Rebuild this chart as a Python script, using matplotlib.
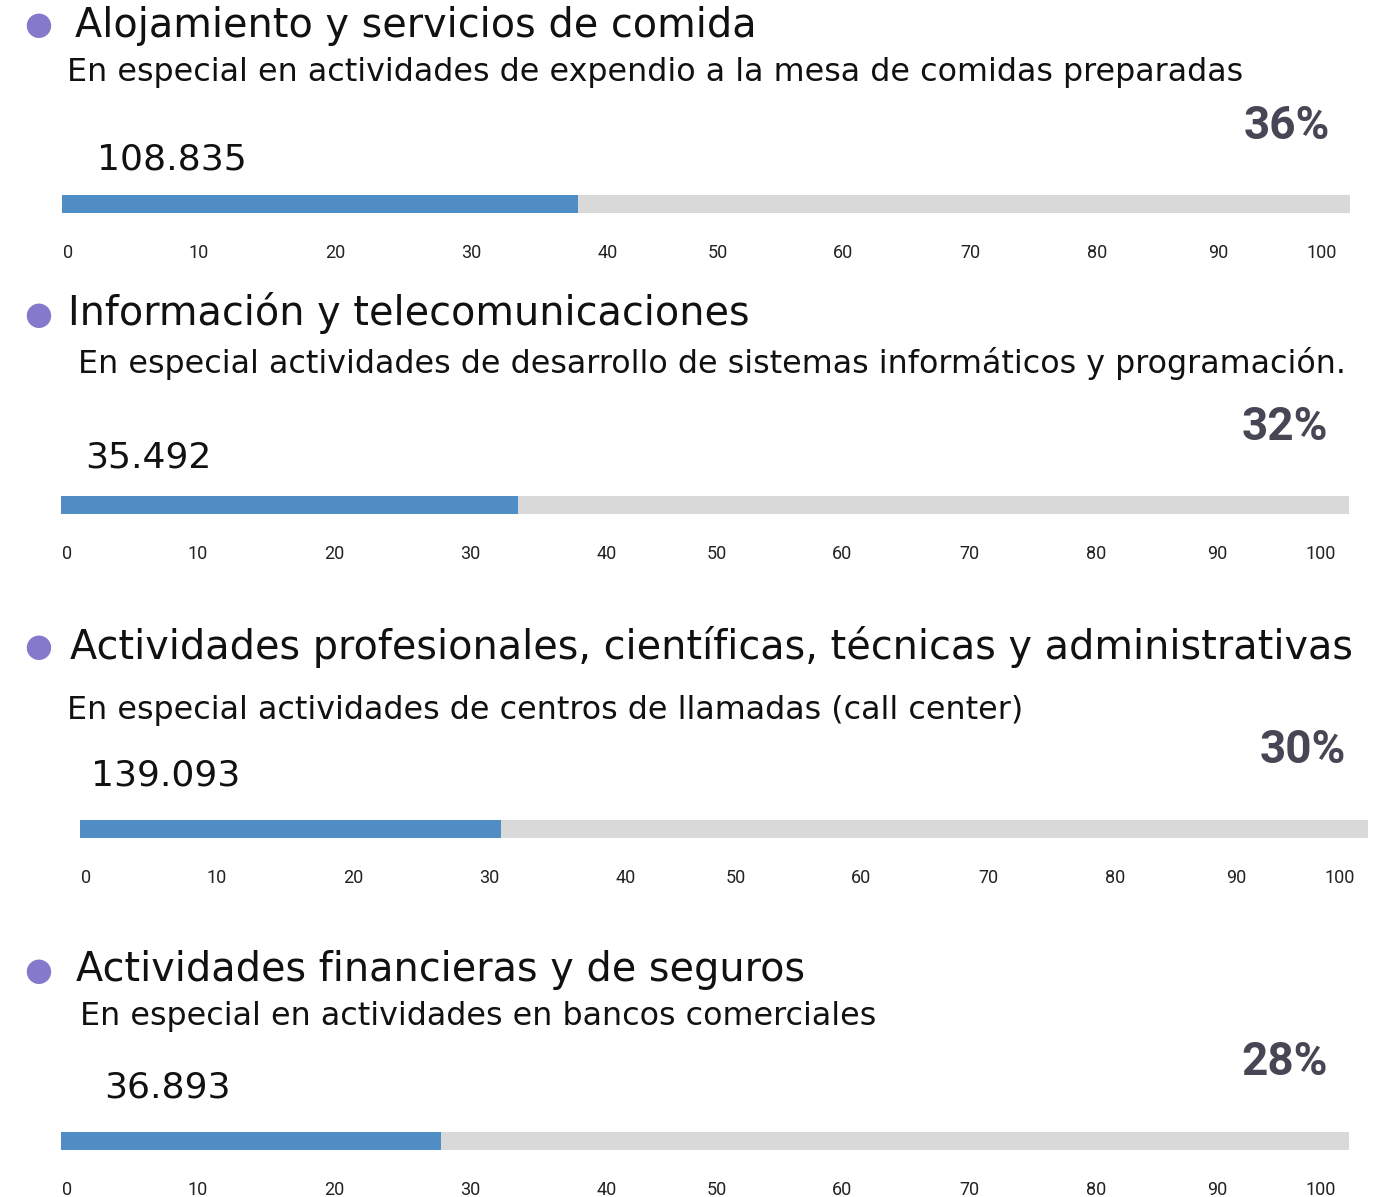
import matplotlib.pyplot as plt

W, H = 1398, 1197

titles = ['Alojamiento y servicios de comida',
          'Información y telecomunicaciones',
          'Actividades profesionales, científicas, técnicas y administrativas',
          'Actividades financieras y de seguros']
subtitles = ['En especial en actividades de expendio a la mesa de comidas preparadas',
             'En especial actividades de desarrollo de sistemas informáticos y programación.',
             'En especial actividades de centros de llamadas (call center)',
             'En especial en actividades en bancos comerciales']
counts = ['108.835', '35.492', '139.093', '36.893']
shares = ['36%', '32%', '30%', '28%']
# filled length of each bar on a 0-100 track
fill = [40.1, 35.5, 32.7, 29.5]
tick_labels = ['0', '10', '20', '30', '40', '50', '60', '70', '80', '90', '100']
tick_at = [0.5, 10.6, 21.2, 31.8, 42.4, 50.9, 60.6, 70.5, 80.4, 89.8, 97.8]

# layout in pixels (from the top-left corner)
bar_x = [62, 61, 80, 61]
bar_top = [195, 496, 820, 1132]
bar_h = 18
bar_w = 1288
bullet_y = [26, 316, 647, 971]
title_pos = [(75, 26), (68, 313), (70, 647), (76, 970)]
sub_pos = [(67, 72), (78, 364), (67, 711), (80, 1017)]
count_pos = [(97, 160), (85, 457), (91, 776), (104, 1087)]
share_pos = [(1330, 126), (1328, 427), (1346, 750), (1328, 1062)]

BLUE = '#4f8dc4'
GRAY = '#d9d9d9'
PURPLE = '#8479cb'
DARK = '#464655'
FONT = 'DejaVu Sans'


def fx(x):
    return x / W


def fy(y):
    return 1 - y / H


fig = plt.figure(figsize=(W / 100, H / 100), dpi=100)

for i in range(4):
    ax = fig.add_axes([fx(bar_x[i]), fy(bar_top[i] + bar_h), bar_w / W, bar_h / H])
    ax.barh(0, 100, height=1, color=GRAY)
    ax.barh(0, fill[i], height=1, color=BLUE)
    ax.set_xlim(0, 100)
    ax.set_ylim(-0.5, 0.5)
    ax.set_yticks([])
    ax.set_xticks(tick_at, tick_labels, fontfamily='Roboto', fontsize=13, color='#222222')
    ax.tick_params(axis='x', length=0, pad=22)
    for s in ax.spines.values():
        s.set_visible(False)

    fig.text(fx(38), fy(bullet_y[i]), '\u25cf', color=PURPLE, fontsize=23,
             ha='center', va='center', fontfamily='DejaVu Sans')
    fig.text(fx(title_pos[i][0]), fy(title_pos[i][1]), titles[i], fontsize=28.6,
             ha='left', va='center', color='#111111', fontfamily=FONT)
    fig.text(fx(sub_pos[i][0]), fy(sub_pos[i][1]), subtitles[i], fontsize=22.9,
             ha='left', va='center', color='#111111', fontfamily=FONT)
    fig.text(fx(count_pos[i][0]), fy(count_pos[i][1]), counts[i], fontsize=26,
             ha='left', va='center', color='#111111', fontfamily=FONT)
    fig.text(fx(share_pos[i][0]), fy(share_pos[i][1]), shares[i], fontsize=33,
             ha='right', va='center', color=DARK, fontfamily='Roboto', fontweight='bold')

fig.savefig('out.png', dpi=100, facecolor='white')
